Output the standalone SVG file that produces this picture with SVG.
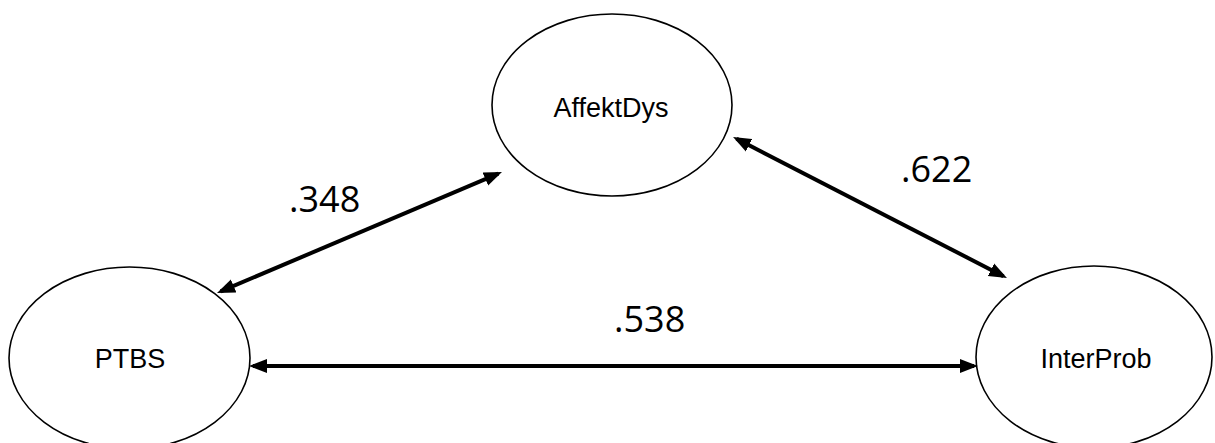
<svg xmlns="http://www.w3.org/2000/svg" width="1215" height="443" viewBox="0 0 1215 443">
  <style>
    .node { fill: #ffffff; stroke: #000000; stroke-width: 1.6; }
    .label { font-family: "Liberation Sans", Arial, sans-serif; font-size: 27px; fill: #000000; text-anchor: middle; }
    .edge { stroke: #000000; stroke-width: 4; fill: none; marker-start: url(#arrow); marker-end: url(#arrow); }
    .coef { font-family: "Open Sans", "Noto Sans", sans-serif; font-size: 36px; fill: #000000; }
  </style>
  <defs>
    <marker id="arrow" markerUnits="userSpaceOnUse" markerWidth="20" markerHeight="16" refX="14" refY="7" orient="auto-start-reverse" viewBox="0 0 20 14">
      <path d="M0,0 L18,7 L0,14 z" fill="#000000"/>
    </marker>
  </defs>
  <rect width="1215" height="443" fill="#ffffff"/>
  <g id="node-affektdys">
    <ellipse class="node" cx="612" cy="105" rx="120" ry="91"/>
    <text class="label" x="611" y="117">AffektDys</text>
  </g>
  <g id="node-ptbs">
    <ellipse class="node" cx="129.5" cy="358" rx="120.5" ry="91"/>
    <text class="label" x="130" y="368">PTBS</text>
  </g>
  <g id="node-interprob">
    <ellipse class="node" cx="1094" cy="357" rx="118" ry="91"/>
    <text class="label" x="1096" y="368">InterProb</text>
  </g>
  <g id="connectors">
    <line class="edge" x1="220.7" y1="291.4" x2="498.3" y2="173.6"/>
    <line class="edge" x1="736.6" y1="138.8" x2="1003.4" y2="276.2"/>
    <line class="edge" x1="253" y1="366" x2="974" y2="366"/>
    <text class="coef" x="289" y="212">.348</text>
    <text class="coef" x="901" y="182">.622</text>
    <text class="coef" x="614" y="332">.538</text>
  </g>
</svg>
